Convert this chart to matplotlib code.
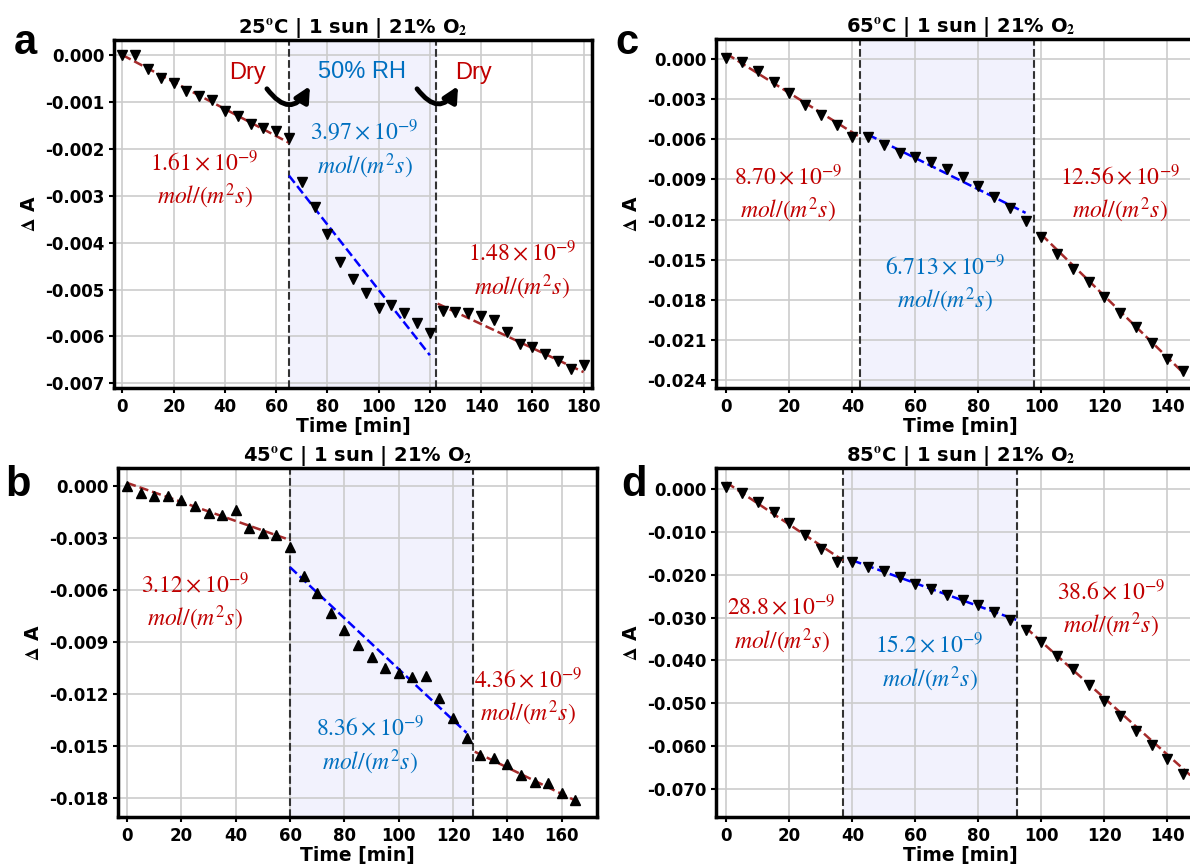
import matplotlib.pyplot as plt
import numpy as np

plt.rcParams['axes.unicode_minus'] = False
plt.rcParams['mathtext.fontset'] = 'stix'

# ---- data ----
temps = [25, 45, 65, 85]
letters = ['a', 'b', 'c', 'd']

time_a = [0, 5, 10, 15, 20, 25, 30, 35, 40, 45, 50, 55, 60, 65, 70, 75, 80, 85, 90,
          95, 100, 105, 110, 115, 120, 125, 130, 135, 140, 145, 150, 155, 160, 165,
          170, 175, 180]
dA_a = [0.0, 0.0, -0.00030, -0.00048, -0.00060, -0.00077, -0.00087, -0.00096, -0.00119,
        -0.00131, -0.00148, -0.00156, -0.00162, -0.00177, -0.00270, -0.00323, -0.00382,
        -0.00442, -0.00477, -0.00507, -0.00539, -0.00534, -0.00550, -0.00572, -0.00592,
        -0.00546, -0.00547, -0.00551, -0.00557, -0.00564, -0.00591, -0.00616, -0.00623,
        -0.00638, -0.00652, -0.00670, -0.00661]

time_b = [0, 5, 10, 15, 20, 25, 30, 35, 40, 45, 50, 55, 60, 65, 70, 75, 80, 85, 90,
          95, 100, 105, 110, 115, 120, 125, 130, 135, 140, 145, 150, 155, 160, 165]
dA_b = [0.0, -0.00038, -0.00057, -0.00057, -0.00082, -0.00115, -0.00153, -0.00168,
        -0.00140, -0.00241, -0.00271, -0.00283, -0.00354, -0.00516, -0.00615, -0.00732,
        -0.00831, -0.00917, -0.00984, -0.01051, -0.01080, -0.01103, -0.01095, -0.01223,
        -0.01341, -0.01456, -0.01552, -0.01567, -0.01605, -0.01666, -0.01710, -0.01716,
        -0.01773, -0.01810]

time_c = [0, 5, 10, 15, 20, 25, 30, 35, 40, 45, 50, 55, 60, 65, 70, 75, 80, 85, 90,
          95, 100, 105, 110, 115, 120, 125, 130, 135, 140, 145]
dA_c = [0.0001, -0.0002, -0.0009, -0.0017, -0.0025, -0.0034, -0.0042, -0.0049, -0.0058,
        -0.0058, -0.0064, -0.0070, -0.0073, -0.0077, -0.0082, -0.0088, -0.0095, -0.0103,
        -0.0111, -0.0121, -0.0133, -0.0146, -0.0157, -0.0167, -0.0178, -0.0190, -0.0200,
        -0.0212, -0.0224, -0.0233]

time_d = [0, 5, 10, 15, 20, 25, 30, 35, 40, 45, 50, 55, 60, 65, 70, 75, 80, 85, 90,
          95, 100, 105, 110, 115, 120, 125, 130, 135, 140, 145]
dA_d = [0.0005, -0.0009, -0.0030, -0.0053, -0.0078, -0.0107, -0.0140, -0.0171, -0.0169,
        -0.0181, -0.0192, -0.0206, -0.0222, -0.0232, -0.0247, -0.0259, -0.0270, -0.0286,
        -0.0306, -0.0328, -0.0356, -0.0389, -0.0420, -0.0457, -0.0494, -0.0530, -0.0565,
        -0.0597, -0.0630, -0.0665]

# linear fit segments: (x0, y0, x1, y1, kind)
fits_a = [(0, 0.0, 65, -0.00187, 'dry'), (65, -0.00257, 120, -0.0064, 'rh'),
          (123, -0.0053, 180, -0.00676, 'dry')]
fits_b = [(0, 0.00019, 60, -0.00311, 'dry'), (60, -0.00468, 125, -0.01424, 'rh'),
          (128, -0.01533, 165, -0.01815, 'dry')]
fits_c = [(0, 0.0004, 42, -0.00578, 'dry'), (45, -0.00565, 95, -0.0115, 'rh'),
          (100, -0.01312, 145, -0.02345, 'dry')]
fits_d = [(0, 0.0016, 37, -0.0166, 'dry'), (40, -0.0166, 92, -0.0305, 'rh'),
          (95, -0.0323, 148, -0.0673, 'dry')]

# humid window boundaries
rh_a = [65, 122.5]
rh_b = [60, 127.2]
rh_c = [42.3, 97.6]
rh_d = [37.1, 92.4]

# rate labels (x, y, value, kind)
rates_a = [(32, -0.00268, '1.61', 'dry'), (94.5, -0.00202, '3.97', 'rh'),
           (156, -0.0046, '1.48', 'dry')]
rates_b = [(25, -0.0067, '3.12', 'dry'), (89.5, -0.0150, '8.36', 'rh'),
           (147.5, -0.0122, '4.36', 'dry')]
rates_c = [(19.5, -0.0101, '8.70', 'dry'), (69.5, -0.01685, '6.713', 'rh'),
           (125, -0.0101, '12.56', 'dry')]
rates_d = [(17.5, -0.0317, '28.8', 'dry'), (64.5, -0.0406, '15.2', 'rh'),
           (122, -0.0280, '38.6', 'dry')]

# panel a condition labels and switch arrows
cond_labels = [(49, -0.00038, 'Dry', 'dry'), (93.5, -0.00036, '50% RH', 'rh'),
               (137, -0.00038, 'Dry', 'dry')]
switch_arrows = [(56.4, 73.2), (115, 131)]

markers = ['v', '^', 'v', 'v']
xlims = [(-3.3, 183.3), (-3.3, 173), (-3.3, 152), (-3.3, 152)]
ylims = [(-0.0071, 0.00032), (-0.0191, 0.00105), (-0.0246, 0.0015), (-0.0766, 0.005)]
ytick_step = [0.001, 0.003, 0.003, 0.010]
ytick_min = [-0.007, -0.018, -0.024, -0.070]
xtick_max = [180, 160, 140, 140]

rects = [[0.0958, 0.5514, 0.4017, 0.4023],
         [0.0992, 0.0555, 0.4025, 0.4035],
         [0.6017, 0.5514, 0.4110, 0.4035],
         [0.6017, 0.0555, 0.4110, 0.4035]]
letter_pos = [(0.021, 0.950), (0.015, 0.439), (0.527, 0.950), (0.533, 0.439)]

line_col = {'dry': 'brown', 'rh': 'blue'}
text_col = {'dry': '#c00000', 'rh': '#0070c0'}

times = [time_a, time_b, time_c, time_d]
values = [dA_a, dA_b, dA_c, dA_d]
fits = [fits_a, fits_b, fits_c, fits_d]
windows = [rh_a, rh_b, rh_c, rh_d]
rates = [rates_a, rates_b, rates_c, rates_d]

fig = plt.figure(figsize=(11.9, 8.65), dpi=100)

for i in range(4):
    ax = fig.add_axes(rects[i])
    ax.set_axisbelow(True)
    ax.grid(True, color='#cccccc', linewidth=1.2)

    lo, hi = windows[i]
    ax.axvspan(lo, hi, color='#f2f2fd', zorder=0.5)
    ax.axvline(lo, color='#333333', linestyle='--', linewidth=1.5, zorder=1)
    ax.axvline(hi, color='#333333', linestyle='--', linewidth=1.5, zorder=1)

    for x0, y0, x1, y1, kind in fits[i]:
        ax.plot([x0, x1], [y0, y1], linestyle='--', color=line_col[kind],
                linewidth=1.8, zorder=2)

    ax.plot(times[i], values[i], linestyle='none', marker=markers[i],
            color='black', markersize=7, zorder=3)

    for x, y, val, kind in rates[i]:
        ax.text(x, y, r'$%s\times10^{-9}$' % val + '\n' + r'$mol/(m^2s)$',
                color=text_col[kind], fontsize=17, ha='center', va='center',
                multialignment='center', linespacing=1.3)

    ax.set_xlim(*xlims[i])
    ax.set_ylim(*ylims[i])
    ax.set_xticks(np.arange(0, xtick_max[i] + 1, 20))
    ax.set_yticks(np.arange(0, ytick_min[i] - 1e-9, -ytick_step[i]))
    ax.yaxis.set_major_formatter(plt.FormatStrFormatter('%.3f'))
    ax.tick_params(labelsize=12, width=1.5)
    for lab in ax.get_xticklabels() + ax.get_yticklabels():
        lab.set_fontweight('bold')
    for sp in ax.spines.values():
        sp.set_linewidth(2.5)

    ax.set_xlabel('Time [min]', fontsize=13.5, fontweight='bold', labelpad=1)
    ax.set_ylabel(r'$\mathbf{\Delta}$ A', fontsize=13.5, fontweight='bold')
    ax.set_title(r'%d$^{\mathbf{o}}$C | 1 sun | 21%% O$_\mathbf{2}$' % temps[i],
                 fontsize=14, fontweight='bold', pad=4)

    fig.text(letter_pos[i][0], letter_pos[i][1], letters[i], fontsize=30,
             fontweight='bold', family='Liberation Sans', ha='center', va='center')

    if i == 0:
        for x, y, txt, kind in cond_labels:
            ax.text(x, y, txt, color=text_col[kind], fontsize=17,
                    family='Liberation Sans', ha='center', va='center')
        for xs, xe in switch_arrows:
            ax.annotate('', xy=(xe, -0.00066), xytext=(xs, -0.00072),
                        arrowprops=dict(arrowstyle='-|>', color='black', lw=3.5,
                                        mutation_scale=22, shrinkA=0, shrinkB=0,
                                        connectionstyle='arc3,rad=0.75'))

fig.savefig('out.png', dpi=100)
